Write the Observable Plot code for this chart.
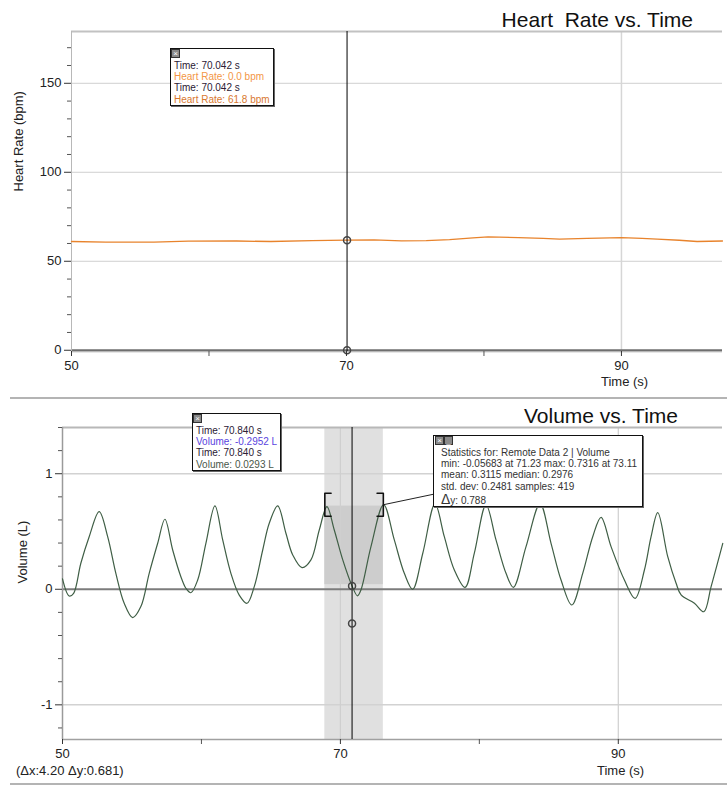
<!DOCTYPE html>
<html><head><meta charset="utf-8">
<script src="https://cdn.jsdelivr.net/npm/d3@7"></script>
<script src="https://cdn.jsdelivr.net/npm/@observablehq/plot@0.6"></script>
<style>
html,body{margin:0;padding:0;background:#fff;overflow:hidden;}
#root{position:relative;width:727px;height:785px;overflow:hidden;font-family:"Liberation Sans",Arial,sans-serif;}
#root svg{position:absolute;left:0;}
.t{position:absolute;white-space:pre;color:#111;}
.tip{position:absolute;background:#fff;border:1px solid #111;box-shadow:1px 1px 0 #666;font-size:10px;line-height:11.2px;box-sizing:border-box;white-space:pre;}
.ico{position:absolute;width:7px;height:7px;background:#8a8a8a;border:1px solid #333;color:#fff;font-size:8px;line-height:7px;text-align:center;}
.sep{position:absolute;left:10px;right:0;height:2px;background:#b4b4b4;}
</style></head>
<body><div id="root"></div>
<script>
(function () {
// ---------- data ----------
const timeMajorTicks = [50, 70, 90];
const timeMinorTicks = [60, 80];

// Heart rate (bpm) vs time (s)
const hrTime  = [50, 52.5, 56, 58.5, 62, 64.5, 67.5, 70, 72, 74, 75.8, 77.5, 79.2, 80.3, 82.5, 84.3, 85.5, 87.5, 90, 91.5, 92.6, 94.2, 95.5, 97.35];
const hrValue = [61.1, 60.8, 60.7, 61.3, 61.4, 61.1, 61.6, 61.9, 62.0, 61.5, 61.6, 62.2, 63.1, 63.7, 63.3, 62.9, 62.4, 62.9, 63.3, 62.9, 62.4, 61.8, 61.1, 61.4];
const hrMajorTicks = [0, 50, 100, 150];
const hrMinorTicks = [10, 20, 30, 40, 60, 70, 80, 90, 110, 120, 130, 140, 160, 170];
const hrGridY = [50, 100, 150];
const hrGridX = [90];
const hrCursorTime = 70.042;
const hrCursorValues = [0.0, 61.8];

// Volume (L) vs time (s)
const volTime  = [50.0, 50.48, 50.8, 51.32, 51.92, 52.64, 53.25, 53.84, 54.44, 55.05, 55.64, 56.24, 56.85, 57.37, 57.93, 58.52, 58.88, 59.24, 59.73, 60.32, 60.97, 61.53, 62.12, 62.72, 63.28, 63.8, 64.41, 64.88, 65.49, 66.08, 66.57, 67.24, 67.88, 68.48, 69.03, 69.56, 70.17, 70.84, 71.23, 71.48, 72.2, 73.11, 73.88, 74.6, 75.2, 75.93, 76.81, 77.48, 78.2, 78.97, 79.64, 80.48, 81.2, 81.92, 82.45, 83.36, 84.37, 85.16, 85.88, 86.65, 87.44, 88.16, 88.76, 89.48, 90.44, 91.21, 91.88, 92.36, 92.84, 93.56, 94.16, 94.52, 95.48, 96.16, 96.68, 97.52];
const volValue = [0.09, -0.058, -0.035, 0.225, 0.455, 0.672, 0.455, 0.138, -0.121, -0.245, -0.15, 0.138, 0.398, 0.606, 0.34, 0.109, 0.009, -0.03, 0.08, 0.398, 0.721, 0.427, 0.138, -0.05, -0.121, 0.023, 0.34, 0.571, 0.721, 0.485, 0.297, 0.187, 0.254, 0.513, 0.715, 0.513, 0.254, 0.0293, -0.0568, -0.006, 0.369, 0.7316, 0.427, 0.138, 0.0, 0.312, 0.739, 0.455, 0.167, 0.017, 0.312, 0.73, 0.427, 0.138, 0.017, 0.369, 0.739, 0.398, 0.08, -0.136, 0.138, 0.455, 0.623, 0.369, 0.08, -0.078, 0.167, 0.455, 0.663, 0.282, 0.052, -0.049, -0.121, -0.194, 0.023, 0.398];
const volMajorTicks = [-1, 0, 1];
const volMinorTicks = [-1.2, -0.8, -0.6, -0.4, -0.2, 0.2, 0.4, 0.6, 0.8, 1.2, 1.4];
const volGridY = [-1, 1];
const volGridX = [70, 90];
const volCursorTime = 70.84;
const volCursorValues = [-0.2952, 0.0293];
const selRange = [68.88, 73.09];     // selected time range (s)
const selBand = [0.04, 0.72];         // darker statistics band (L)
const selMax = 0.7316;
const statsAnchor = [76.8, 0.825];

// texts
const hrTitle = "Heart  Rate vs. Time";
const volTitle = "Volume vs. Time";
const hrTipLines = [["Time: 70.042 s", "#2b2035"], ["Heart Rate: 0.0 bpm", "#f39646"], ["Time: 70.042 s", "#2b2035"], ["Heart Rate: 61.8 bpm", "#d9782f"]];
const volTipLines = [["Time: 70.840 s", "#2b2035"], ["Volume: -0.2952 L", "#5a44e0"], ["Time: 70.840 s", "#2b2035"], ["Volume: 0.0293 L", "#4a574a"]];
const statsLines = ["Statistics for: Remote Data 2 | Volume", "min: -0.05683 at 71.23 max: 0.7316 at 73.11", "mean: 0.3115 median: 0.2976", "std. dev: 0.2481 samples: 419"];
const statsDelta = "0.788";
const deltaText = "(\u0394x:4.20 \u0394y:0.681)";

// ---------- charts ----------
const font = {fontFamily: "Liberation Sans, Arial, sans-serif", fontSize: "13px", background: "transparent", overflow: "visible", color: "#222"};
const root = document.getElementById("root");

const hrDom = [-0.7, 179.1];
const topChart = Plot.plot({
  width: 727, height: 398, marginTop: 31, marginBottom: 47, marginLeft: 71, marginRight: 5,
  x: {domain: [50, 97.35]}, y: {domain: hrDom},
  style: font,
  marks: [
    Plot.ruleY(hrGridY, {stroke: "#cfcfcf"}),
    Plot.ruleX(hrGridX, {stroke: "#d6d6d6", strokeWidth: 1.5}),
    Plot.ruleY([hrDom[1]], {stroke: "#c2c2c2", strokeWidth: 2}),
    Plot.ruleY([hrDom[0]], {stroke: "#cfcfcf", strokeWidth: 2}),
    Plot.ruleY([0], {stroke: "#6f6f6f", strokeWidth: 2}),
    Plot.ruleX([50], {stroke: "#b8b8b8"}),
    Plot.line(hrTime, {x: d => d, y: (d, i) => hrValue[i], stroke: "#e8832c", strokeWidth: 1.3}),
    Plot.ruleX([hrCursorTime], {stroke: "#000"}),
    Plot.dot(hrCursorValues, {x: () => hrCursorTime, y: d => d, r: 3.5, stroke: "#444", fill: "none"}),
    Plot.axisY(hrMajorTicks, {tickSize: 7, tickFormat: d => String(d), stroke: "#333", fill: "#222", fontSize: 13, label: null}),
    Plot.axisY(hrMinorTicks, {tickSize: 4, tickFormat: () => "", stroke: "#555", label: null}),
    Plot.axisX(timeMajorTicks, {tickSize: 5, tickFormat: d => String(d), stroke: "#333", fill: "#222", fontSize: 13, label: null}),
    Plot.axisX(timeMinorTicks, {tickSize: 5, tickFormat: () => "", stroke: "#555", label: null}),
    Plot.text(["Heart Rate (bpm)"], {frameAnchor: "left", rotate: -90, dx: -53, fontSize: 13, fill: "#222"})
  ]
});
topChart.style.top = "0px";
root.appendChild(topChart);

const volDom = [-1.3, 1.4];
const botChart = Plot.plot({
  width: 727, height: 387, marginTop: 29, marginBottom: 46, marginLeft: 62, marginRight: 5,
  x: {domain: [50, 97.5]}, y: {domain: volDom},
  style: font,
  marks: [
    Plot.rect([selRange], {x1: d => d[0], x2: d => d[1], fill: "#e0e0e0"}),
    Plot.rect([selRange], {x1: d => d[0], x2: d => d[1], y1: () => selBand[0], y2: () => selBand[1], fill: "#cdcdcd"}),
    Plot.ruleY(volGridY, {stroke: "#d2d2d2", strokeWidth: 1.5}),
    Plot.ruleX(volGridX, {stroke: "#cfcfcf", strokeWidth: 1.2}),
    Plot.ruleY([volDom[1]], {stroke: "#b8b8b8", strokeWidth: 2}),
    Plot.ruleY([volDom[0]], {stroke: "#a0a0a0", strokeWidth: 1.5}),
    Plot.ruleY([0], {stroke: "#7c7c7c", strokeWidth: 2}),
    Plot.ruleX([50], {stroke: "#9a9a9a", strokeWidth: 1.5}),
    Plot.line(volTime, {x: d => d, y: (d, i) => volValue[i], stroke: "#3f5e45", strokeWidth: 1.2, curve: "catmull-rom"}),
    Plot.line([[selRange[0] + 0.45, selMax + 0.1], [selRange[0], selMax + 0.1], [selRange[0], selMax - 0.1], [selRange[0] + 0.45, selMax - 0.1]], {x: d => d[0], y: d => d[1], stroke: "#111", strokeWidth: 1.6}),
    Plot.line([[selRange[1] - 0.45, selMax + 0.1], [selRange[1], selMax + 0.1], [selRange[1], selMax - 0.1], [selRange[1] - 0.45, selMax - 0.1]], {x: d => d[0], y: d => d[1], stroke: "#111", strokeWidth: 1.6}),
    Plot.link([0], {x1: () => selRange[1], y1: () => selMax, x2: () => statsAnchor[0], y2: () => statsAnchor[1], stroke: "#222"}),
    Plot.ruleX([volCursorTime], {stroke: "#000"}),
    Plot.dot(volCursorValues, {x: () => volCursorTime, y: d => d, r: 3.5, stroke: "#444", fill: "none"}),
    Plot.axisY(volMajorTicks, {tickSize: 7, tickFormat: d => String(d), stroke: "#333", fill: "#222", fontSize: 13, label: null}),
    Plot.axisY(volMinorTicks, {tickSize: 4, tickFormat: () => "", stroke: "#555", label: null}),
    Plot.axisX(timeMajorTicks, {tickSize: 5, tickFormat: d => String(d), stroke: "#333", fill: "#222", fontSize: 13, label: null}),
    Plot.axisX(timeMinorTicks, {tickSize: 5, tickFormat: () => "", stroke: "#555", label: null}),
    Plot.text(["Volume (L)"], {frameAnchor: "left", rotate: -90, dx: -40, fontSize: 13, fill: "#222"})
  ]
});
botChart.style.top = "398px";
root.appendChild(botChart);

// ---------- html chrome ----------
function div(cls, css, html) {
  const d = document.createElement("div");
  d.className = cls; d.style.cssText = css; d.innerHTML = html || "";
  root.appendChild(d); return d;
}
div("sep", "top:397px;");
div("sep", "top:783px;height:1.5px;");
div("t", "right:34px;top:9px;font-size:21px;line-height:21px;", hrTitle);
div("t", "right:49px;top:405px;font-size:21px;line-height:21px;", volTitle);
div("t", "left:601px;top:375px;font-size:13px;line-height:14px;color:#222;", "Time (s)");
div("t", "left:597px;top:764px;font-size:13px;line-height:14px;color:#222;", "Time (s)");
div("t", "left:16px;top:764px;font-size:13px;line-height:14px;color:#222;", deltaText);

function tip(left, topPx, w, h, lines) {
  const b = div("tip", `left:${left}px;top:${topPx}px;width:${w}px;height:${h}px;padding:11px 0 0 3px;`,
    lines.map(([s, c]) => `<div style="color:${c}">${s}</div>`).join(""));
  div("ico", `left:${left + 1}px;top:${topPx + 1}px;`, "\u00d7");
  return b;
}
tip(170, 48, 104, 58, hrTipLines);
tip(192, 413, 89, 58, volTipLines);

div("tip", "left:433px;top:435px;width:210px;height:72px;padding:11px 0 0 7px;color:#333;",
  statsLines.map(s => `<div>${s}</div>`).join("") +
  `<div style="line-height:15px;"><span style="font-size:14px;">\u0394</span>y: ${statsDelta}</div>`);
div("ico", "left:435px;top:436px;", "\u00d7");
div("ico", "left:444px;top:436px;", "_");
})();
</script>
</body></html>
